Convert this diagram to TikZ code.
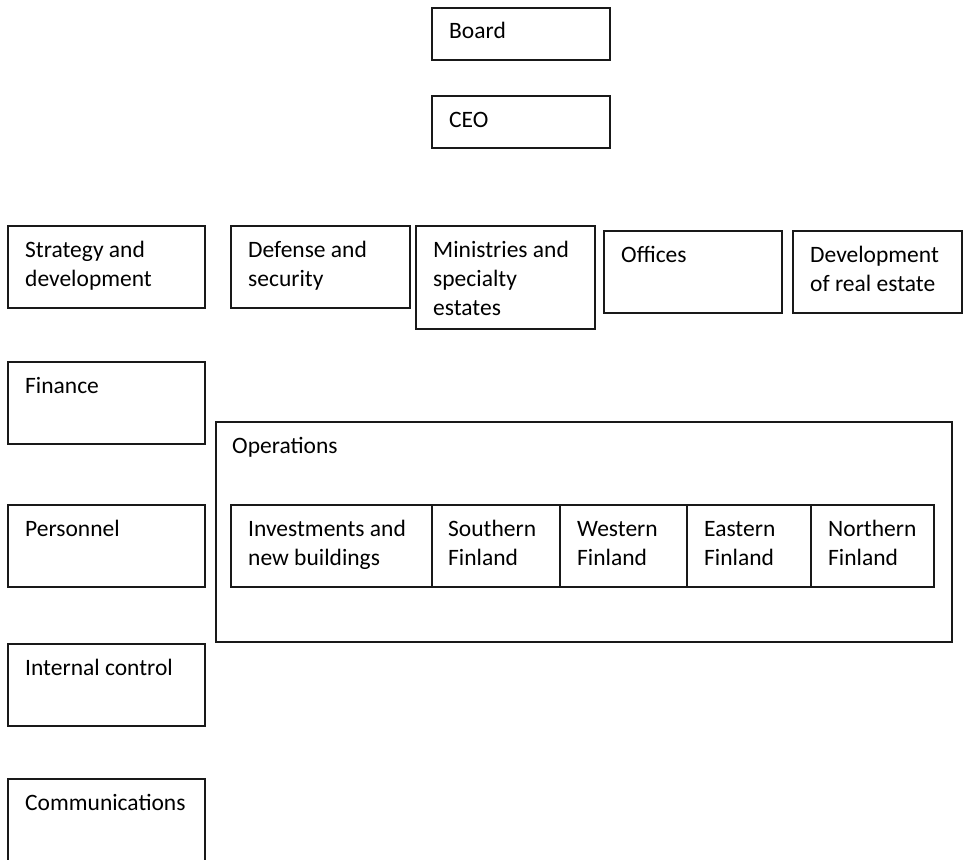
\documentclass[tikz,border=0pt]{standalone}
\usepackage{fontspec}
\setmainfont{Carlito}
\begin{document}
\begin{tikzpicture}[x=1pt, y=-1pt,
		box/.style={draw=black!90, line width=1.6pt, anchor=north west, inner sep=0pt, outer sep=0pt},
		lbl/.style={anchor=base west, align=left, inner sep=0pt, font=\fontsize{23.5}{29}\selectfont}]
		\useasboundingbox (0,0) rectangle (963,859);

		% top
		\node[box, minimum width=178pt, minimum height=52pt] (board) at (432,8) {};
		\node[lbl] (board-t) at ([shift={(17,31)}]board.north west) {Board};
		\node[box, minimum width=178pt, minimum height=52pt] (ceo) at (432,96) {};
		\node[lbl] (ceo-t) at ([shift={(17,31)}]ceo.north west) {CEO};

		% first row (base anchor sits on the last line)
		\node[box, minimum width=197pt, minimum height=82pt] (strat) at (8,226) {};
		\node[lbl] (strat-t) at ([shift={(17,60)}]strat.north west) {Strategy and\\development};
		\node[box, minimum width=179pt, minimum height=82pt] (defense) at (231,226) {};
		\node[lbl] (defense-t) at ([shift={(17,60)}]defense.north west) {Defense and\\security};
		\node[box, minimum width=179pt, minimum height=103pt] (ministries) at (416,226) {};
		\node[lbl] (ministries-t) at ([shift={(17,89)}]ministries.north west) {Ministries and\\specialty\\estates};
		\node[box, minimum width=178pt, minimum height=82pt] (offices) at (604,231) {};
		\node[lbl] (offices-t) at ([shift={(17,31)}]offices.north west) {Offices};
		\node[box, minimum width=169pt, minimum height=82pt] (realestate) at (793,231) {};
		\node[lbl] (realestate-t) at ([shift={(17,60)}]realestate.north west) {Development\\of real estate};

		% left column
		\node[box, minimum width=197pt, minimum height=82pt] (finance) at (8,362) {};
		\node[lbl] (finance-t) at ([shift={(17,31)}]finance.north west) {Finance};
		\node[box, minimum width=197pt, minimum height=82pt] (personnel) at (8,505) {};
		\node[lbl] (personnel-t) at ([shift={(17,31)}]personnel.north west) {Personnel};
		\node[box, minimum width=197pt, minimum height=82pt] (control) at (8,644) {};
		\node[lbl] (control-t) at ([shift={(17,31)}]control.north west) {Internal control};
		\node[box, minimum width=197pt, minimum height=100pt] (comm) at (8,779) {};
		\node[lbl] (comm-t) at ([shift={(17,31)}]comm.north west) {Communications};

		% operations
		\node[box, minimum width=736pt, minimum height=220pt] (ops) at (216,422) {};
		\node[lbl] (ops-t) at ([shift={(16,31)}]ops.north west) {Operations};
		\node[box, minimum width=201pt, minimum height=82pt] (invest) at (231,505) {};
		\node[lbl] (invest-t) at ([shift={(17,60)}]invest.north west) {Investments and\\new buildings};
		\node[box, minimum width=128pt, minimum height=82pt] (south) at (invest.north east) {};
		\node[lbl] (south-t) at ([shift={(16,60)}]south.north west) {Southern\\Finland};
		\node[box, minimum width=127pt, minimum height=82pt] (west) at (south.north east) {};
		\node[lbl] (west-t) at ([shift={(17,60)}]west.north west) {Western\\Finland};
		\node[box, minimum width=124pt, minimum height=82pt] (east) at (west.north east) {};
		\node[lbl] (east-t) at ([shift={(17,60)}]east.north west) {Eastern\\Finland};
		\node[box, minimum width=123pt, minimum height=82pt] (north) at (east.north east) {};
		\node[lbl] (north-t) at ([shift={(17,60)}]north.north west) {Northern\\Finland};

	\end{tikzpicture}
\end{document}
